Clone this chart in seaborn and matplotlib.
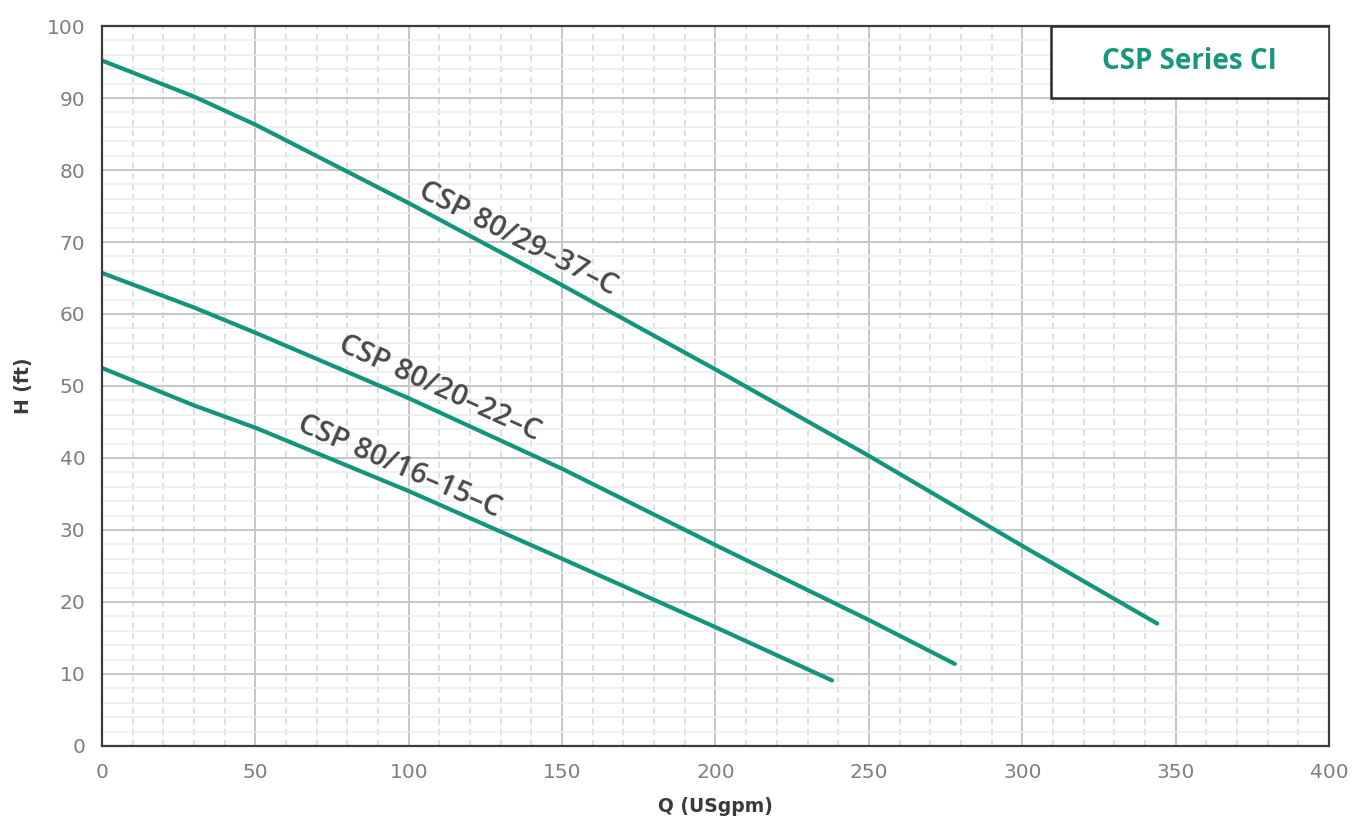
import matplotlib
matplotlib.use("Agg")
import matplotlib.pyplot as plt
from matplotlib.ticker import MultipleLocator
import pandas as pd
import seaborn as sns

# pump curves (Q in USgpm, H in ft)
q_29_37 = [0, 30, 50, 100, 150, 200, 250, 300, 344]
h_29_37 = [95.2, 90.2, 86.3, 75.4, 64.0, 52.3, 40.3, 27.8, 17.0]

q_20_22 = [0, 30, 50, 100, 150, 200, 250, 278]
h_20_22 = [65.7, 60.9, 57.4, 48.3, 38.5, 27.9, 17.5, 11.4]

q_16_15 = [0, 30, 50, 100, 150, 200, 238]
h_16_15 = [52.5, 47.3, 44.2, 35.4, 26.0, 16.5, 9.1]

models = ["CSP 80/29\u201337\u2013C", "CSP 80/20\u201322\u2013C", "CSP 80/16\u201315\u2013C"]
label_x = [135.6, 110.0, 96.8]
label_y = [70.4, 49.6, 38.8]
label_rot = [-27, -24.5, -23.5]

x_ticks = [0, 50, 100, 150, 200, 250, 300, 350, 400]
y_ticks = [0, 10, 20, 30, 40, 50, 60, 70, 80, 90, 100]

teal = "#12957b"
frames = []
for name, q, h in zip(models, [q_29_37, q_20_22, q_16_15], [h_29_37, h_20_22, h_16_15]):
    frames.append(pd.DataFrame({"Q": q, "H": h, "model": name}))
df = pd.concat(frames, ignore_index=True)

sns.set_style("white")
plt.rcParams["font.family"] = ["DejaVu Sans"]

fig = plt.figure(figsize=(13.64, 8.26), dpi=100)
ax = fig.add_axes([0.0748, 0.0969, 0.8995, 0.8716])

sns.lineplot(data=df, x="Q", y="H", units="model", estimator=None, color=teal,
             linewidth=3, ax=ax, sort=False)

ax.set_xlim(0, 400)
ax.set_ylim(0, 100)
ax.set_xticks(x_ticks)
ax.set_yticks(y_ticks)
ax.xaxis.set_minor_locator(MultipleLocator(10))
ax.yaxis.set_minor_locator(MultipleLocator(2))

ax.grid(which="major", color="#c6c6c6", linewidth=1.4, linestyle="-", zorder=0)
ax.grid(which="minor", axis="x", color="#d6d6d6", linewidth=1.1, linestyle=(0, (4, 3)))
ax.grid(which="minor", axis="y", color="#ececec", linewidth=1.1, linestyle="-")
ax.set_axisbelow(True)

for side in ["left", "bottom", "top", "right"]:
    ax.spines[side].set_color("#3c3c3c")
    ax.spines[side].set_linewidth(1.6)
    ax.spines[side].set_visible(True)

ax.tick_params(which="major", direction="out", length=6, width=1.4, color="#3c3c3c",
               labelsize=14.5, labelcolor="#7f7f7f", pad=6)
ax.tick_params(which="minor", length=0)

ax.set_xlabel("Q (USgpm)", fontsize=13.5, fontweight="bold", color="#3a3a3a", labelpad=11)
ax.set_ylabel("H (ft)", fontsize=13.5, fontweight="bold", color="#3a3a3a", labelpad=10)

for name, lx, ly, rot in zip(models, label_x, label_y, label_rot):
    ax.text(lx, ly, name, rotation=rot, rotation_mode="anchor", ha="center", va="center",
            fontsize=21, fontweight="semibold", color="#484848",
            family=["Open Sans", "DejaVu Sans"])

ax.add_patch(plt.Rectangle((0.7735, 0.9), 0.2265, 0.1, transform=ax.transAxes,
                           facecolor="white", edgecolor="#2a2a2a", linewidth=1.8, zorder=3))
ax.text(0.886, 0.951, "CSP Series CI", transform=ax.transAxes, ha="center", va="center",
        fontsize=20, fontweight="bold", color="#18977c", family=["Open Sans", "DejaVu Sans"],
        zorder=4)

fig.savefig("out.png", dpi=100, facecolor="white")
